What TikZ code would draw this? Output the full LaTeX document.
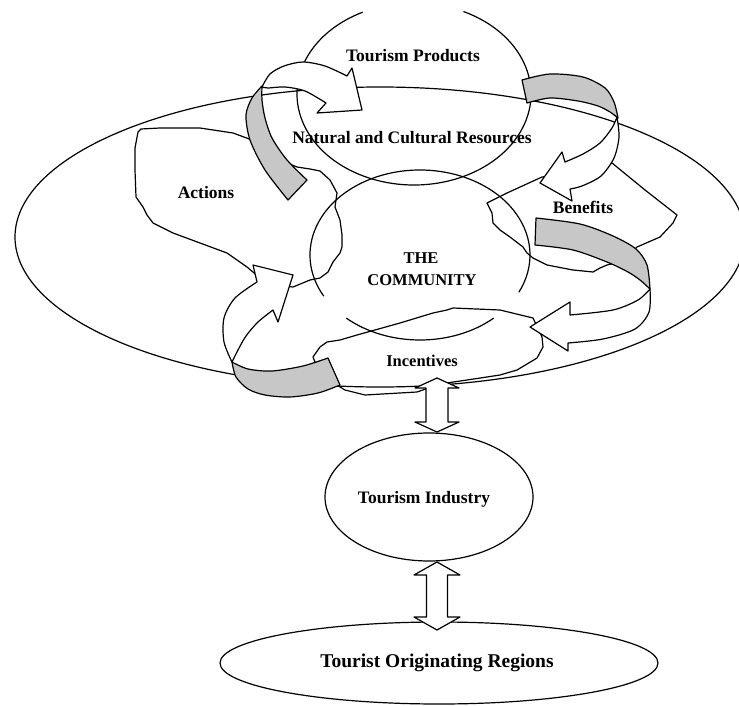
\documentclass[tikz,border=0pt]{standalone}
\usepackage{fontspec}
\setmainfont{Liberation Serif}
\usetikzlibrary{shapes.geometric,calc}
\begin{document}
\begin{tikzpicture}[x=1pt,y=-1pt, line width=1.2pt, line join=round,
  lbl/.style={font=\bfseries\fontsize{17.5}{20}\selectfont, inner sep=0, anchor=base},
  lblsm/.style={font=\bfseries\fontsize{16.5}{20}\selectfont, inner sep=0, anchor=base},
  lblbig/.style={font=\bfseries\fontsize{19.5}{22}\selectfont, inner sep=0, anchor=base},
  ring/.style={draw, ellipse, inner sep=0pt, outer sep=0pt},
  blob/.style={draw},
  band/.style={draw, fill=white},
  backband/.style={draw, fill=black!22},
  dbl/.style={draw, fill=white}]
\useasboundingbox (0,0) rectangle (739,706);

% ---- ellipses ----
\node[ring, minimum width=730, minimum height=300] (big) at (380,237) {};
\coordinate (tp) at (414,94);
\draw (tp) ++(295:117 and 91) arc[start angle=295, end angle=604, x radius=117, y radius=91];
\coordinate (com) at (420,255);
\draw (com) ++(151:110 and 85) arc[start angle=151, end angle=386, x radius=110, y radius=85];
\draw (com) ++(48:110 and 85) arc[start angle=48, end angle=132, x radius=110, y radius=85];
\node[ring, minimum width=208, minimum height=128] (ind) at (429,497) {};
\node[ring, minimum width=438, minimum height=82] (tor) at (439,663) {};

% ---- blobs ----
\draw[blob] (260,278) -- (247,267) -- (227,253) -- (200,243) -- (173,233) -- (153,223)
  -- (147,215) -- (143,207) -- (136,197) -- (135,170) -- (135,148) -- (138,132) -- (141,129)
  -- (160,128) -- (200,128) -- (233,133) -- (252,140) -- (280,160) -- (297,167) -- (310,169)
  -- (320,171) -- (330,180) -- (337,193) -- (335,207) -- (340,220) -- (342,235) -- (342,247)
  -- (340,253) -- (333,262) -- (328,272) -- (320,278) -- (310,280) -- (293,287) -- (275,285) -- cycle;
\draw[blob] (487,203) -- (507,193) -- (542,177) -- (590,172) -- (612,163) -- (645,190)
  -- (677,215) -- (673,223) -- (660,237) -- (637,247) -- (620,262) -- (607,265) -- (600,268)
  -- (593,272) -- (573,270) -- (547,265) -- (533,258) -- (527,253) -- (523,247) -- (510,237)
  -- (500,230) -- (493,223) -- (492,213) -- cycle;
\draw[blob] (313,357) -- (320,347) -- (327,342) -- (340,340) -- (357,335) -- (400,323)
  -- (433,313) -- (447,310) -- (453,308) -- (500,310) -- (533,318) -- (542,337) -- (543,347)
  -- (537,358) -- (527,364) -- (517,370) -- (500,375) -- (467,380) -- (440,384) -- (417,392)
  -- (365,395) -- (345,390) -- (320,375) -- cycle;

% ---- curved arrows ----
% top-left
\draw[backband] plot[smooth, tension=.5] coordinates {(288,200) (265,170) (250,140) (246,115) (252,98) (262,86)}
  -- plot[smooth, tension=.5] coordinates {(262,86) (262,100) (265,118) (272,138) (287,160) (307,180)} -- cycle;
\draw[band] plot[smooth, tension=.5] coordinates {(262,87) (270,74) (284,66) (303,62) (325,66) (347,76)}
  -- (352,68) -- (362,110) -- (317,113) -- (326,103)
  -- plot[smooth, tension=.5] coordinates {(326,103) (305,91) (285,87) (268,88) (262,87)} -- cycle;
% top-right
\draw[band] plot[smooth, tension=.5] coordinates {(617,117) (619,137) (614,158) (601,176) (582,186) (570,189)}
  -- (572,201) -- (540,183) -- (562,152) -- (565,162)
  -- plot[smooth, tension=.5] coordinates {(565,162) (583,154) (600,143) (612,128) (617,117)} -- cycle;
\draw[backband] plot[smooth, tension=.5] coordinates {(522,80) (550,74) (583,77) (605,88) (614,102) (618,118)}
  -- plot[smooth, tension=.5] coordinates {(618,118) (610,112) (598,106) (578,101) (550,98) (527,103)} -- cycle;
% right
\draw[band] plot[smooth, tension=.5] coordinates {(650,289) (649,312) (635,329) (603,339) (568,343)}
  -- (568,351) -- (530,327) -- (570,302) -- (570,315)
  -- plot[smooth, tension=.5] coordinates {(570,315) (613,310) (638,300) (650,289)} -- cycle;
\draw[backband] plot[smooth, tension=.5] coordinates {(536,218) (580,224) (613,236) (636,249) (647,265) (650,289)}
  -- plot[smooth, tension=.5] coordinates {(650,289) (640,280) (628,272) (607,262) (573,250) (535,245)} -- cycle;
% bottom-left
\draw[band] plot[smooth, tension=.5] coordinates {(232,362) (224,342) (224,318) (235,298) (257,282)}
  -- (253,265) -- (293,275) -- (278,322) -- (273,310)
  -- plot[smooth, tension=.5] coordinates {(273,310) (258,322) (246,336) (238,350) (232,362)} -- cycle;
\draw[backband] plot[smooth, tension=.5] coordinates {(328,358) (303,366) (272,371) (248,369) (232,362)}
  -- plot[smooth, tension=.5] coordinates {(232,362) (236,377) (248,389) (265,395) (290,397) (318,393) (340,385)} -- cycle;

% ---- double arrows ----
\coordinate (d1t) at (437,378);
\coordinate (d1b) at (437,432);
\draw[dbl] (d1t) -- ++(22,10) -- ++(-11,0) -- ++(0,34) -- ++(11,0) -- (d1b)
  -- ++(-22,-10) -- ++(11,0) -- ++(0,-34) -- ++(-11,0) -- cycle;
\coordinate (d2t) at (437,562);
\coordinate (d2b) at (437,630);
\draw[dbl] (d2t) -- ++(23,13) -- ++(-12.5,0) -- ++(0,42) -- ++(12.5,0) -- (d2b)
  -- ++(-23,-13) -- ++(12.5,0) -- ++(0,-42) -- ++(-12.5,0) -- cycle;

% ---- labels ----
\node[lbl] (tpl) at (413,62) {Tourism Products};
\node[lbl] (ncr) at (412,143) {Natural and Cultural Resources};
\node[lbl] (act) at (206,198) {Actions};
\node[lbl] (ben) at (583,213) {Benefits};
\node[lblsm] (the) at (421,263) {THE};
\node[lblsm] (cmty) at (422,285) {COMMUNITY};
\node[lblsm] (inc) at (422,366) {Incentives};
\node[lbl] (indl) at (424,503) {Tourism Industry};
\node[lblbig] (torl) at (437,667) {Tourist Originating Regions};
\end{tikzpicture}
\end{document}
